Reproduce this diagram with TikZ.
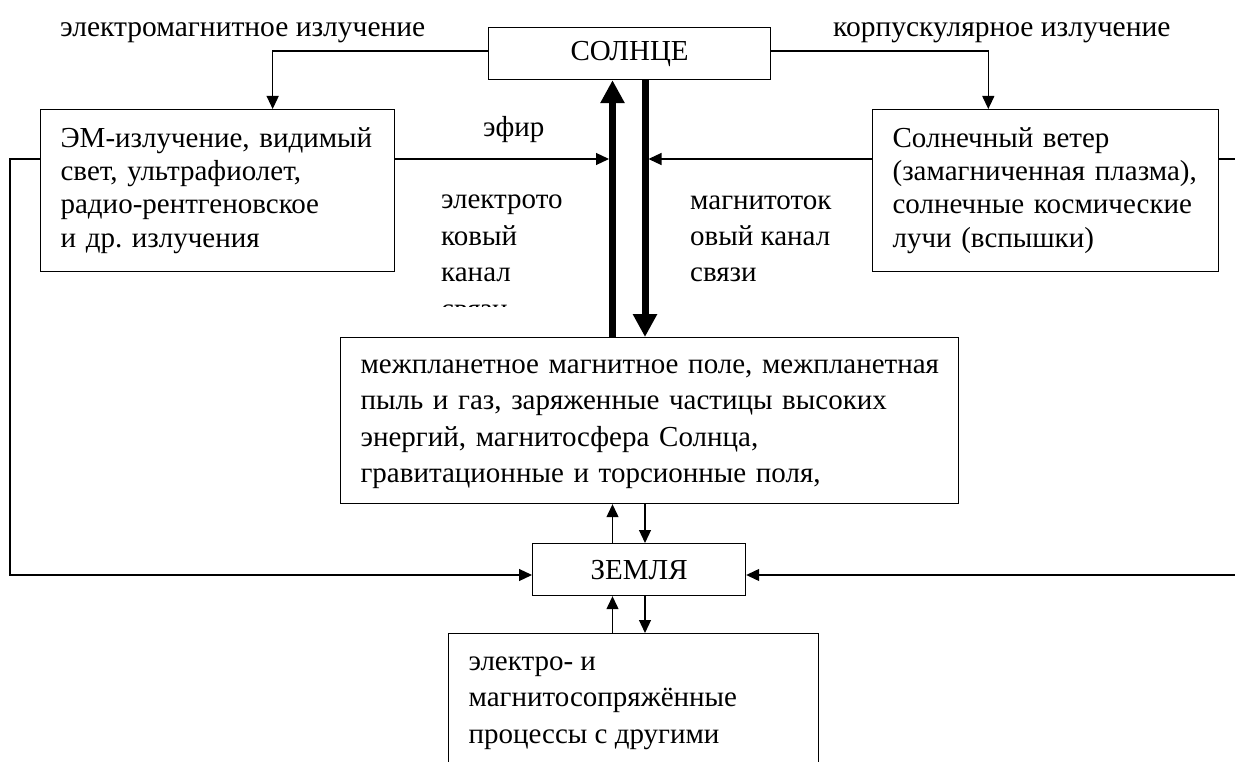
\documentclass[tikz,border=0pt]{standalone}
\usepackage{fontspec}
\setmainfont{Liberation Serif}
\frenchspacing
\usetikzlibrary{arrows.meta,calc}
\begin{document}
\begin{tikzpicture}[x=1pt,y=-1pt,
  every node/.style={font=\fontsize{29}{36.5}\selectfont},
  box/.style={draw,line width=1.2pt,anchor=north west,inner xsep=20pt,inner ysep=0pt,align=left},
  tight/.style={font=\fontsize{29}{33.35}\selectfont},
  wide/.style={font=\fontsize{29.5}{36.5}\selectfont},
  conn/.style={line width=1.2pt,-{Triangle[length=13pt,width=12pt]}},
  fat/.style={line width=7pt,-{Triangle[length=23pt,width=23pt]}},
  lbl/.style={anchor=base west,inner sep=0pt,align=left}]
\useasboundingbox (0,0) rectangle (1235,762);
\clip (0,0) rectangle (1235,762);
% boxes
\node[box,minimum width=282pt,minimum height=52pt,align=center] (sun) at (488,27) {СОЛНЦЕ};
\node[box,tight,text width=314pt,minimum height=162pt] (em) at (40,109) {\strut\mbox{ЭМ-излучение, видимый}\\\mbox{свет, ультрафиолет,}\\\mbox{радио-рентгеновское}\\\mbox{и др. излучения}\strut};
\node[box,tight,text width=306pt,minimum height=162pt] (sw) at (872,109) {\strut\mbox{Солнечный ветер}\\\mbox{(замагниченная плазма),}\\\mbox{солнечные космические}\\\mbox{лучи (вспышки)}\strut};
\node[box,text width=578pt,minimum height=166pt] (mid) at (340,337) {\strut\mbox{межпланетное магнитное поле, межпланетная}\\\mbox{пыль и газ, заряженные частицы высоких}\\\mbox{энергий, магнитосфера Солнца,}\\\mbox{гравитационные и торсионные поля,}\strut};
\node[box,minimum width=213pt,minimum height=52pt,align=center] (earth) at (532,543) {ЗЕМЛЯ};
\node[box,inner ysep=23pt] (proc) at (448,633) {\parbox[t][150pt][t]{330pt}{\raggedright электро- и\\магнитосопряжённые\\процессы с другими}};
% labels
\node[lbl,wide] (lem) at (60,37) {электромагнитное излучение};
\node[lbl,wide] (lcorp) at (833,37) {корпускулярное излучение};
\node[lbl] (lether) at (483,137) {эфир};
\begin{scope}
\clip (420,170) rectangle (600,307);
\node[lbl] (lel) at (441,318) {электрото\\ковый\\канал\\связи};
\end{scope}
\node[lbl] (lmag) at (690,282) {магнитоток\\овый канал\\связи};
% helper coordinates
\coordinate (ys) at (0,51);
\coordinate (yl) at (0,159);
\coordinate (ye) at (0,575);
\coordinate (xu) at (612.5,0);
\coordinate (xd) at (645,0);
\coordinate (xl) at (10,0);
\coordinate (xr) at (1245,0);
% connectors
\draw[conn] (sun.west |- ys) -| ($(em.north west)!0.655!(em.north east)$);
\draw[conn] (sun.east |- ys) -| ($(sw.north west)!0.335!(sw.north east)$);
\draw[fat] (xu |- mid.north) -- (xu |- sun.south);
\draw[fat] (xd |- sun.south) -- (xd |- mid.north);
\draw[conn] (em.east |- yl) -- ($(xu |- yl)+(-3.5,0)$);
\draw[conn] (sw.west |- yl) -- ($(xd |- yl)+(3.5,0)$);
\draw[conn] (em.west |- yl) -| (xl |- ye) -- (earth.west |- ye);
\draw[conn] (sw.east |- yl) -| (xr |- ye) -- (earth.east |- ye);
\draw[conn] (xu |- earth.north) -- (xu |- mid.south);
\draw[conn] (xd |- mid.south) -- (xd |- earth.north);
\draw[conn] (xu |- proc.north) -- (xu |- earth.south);
\draw[conn] (xd |- earth.south) -- (xd |- proc.north);
\end{tikzpicture}
\end{document}
